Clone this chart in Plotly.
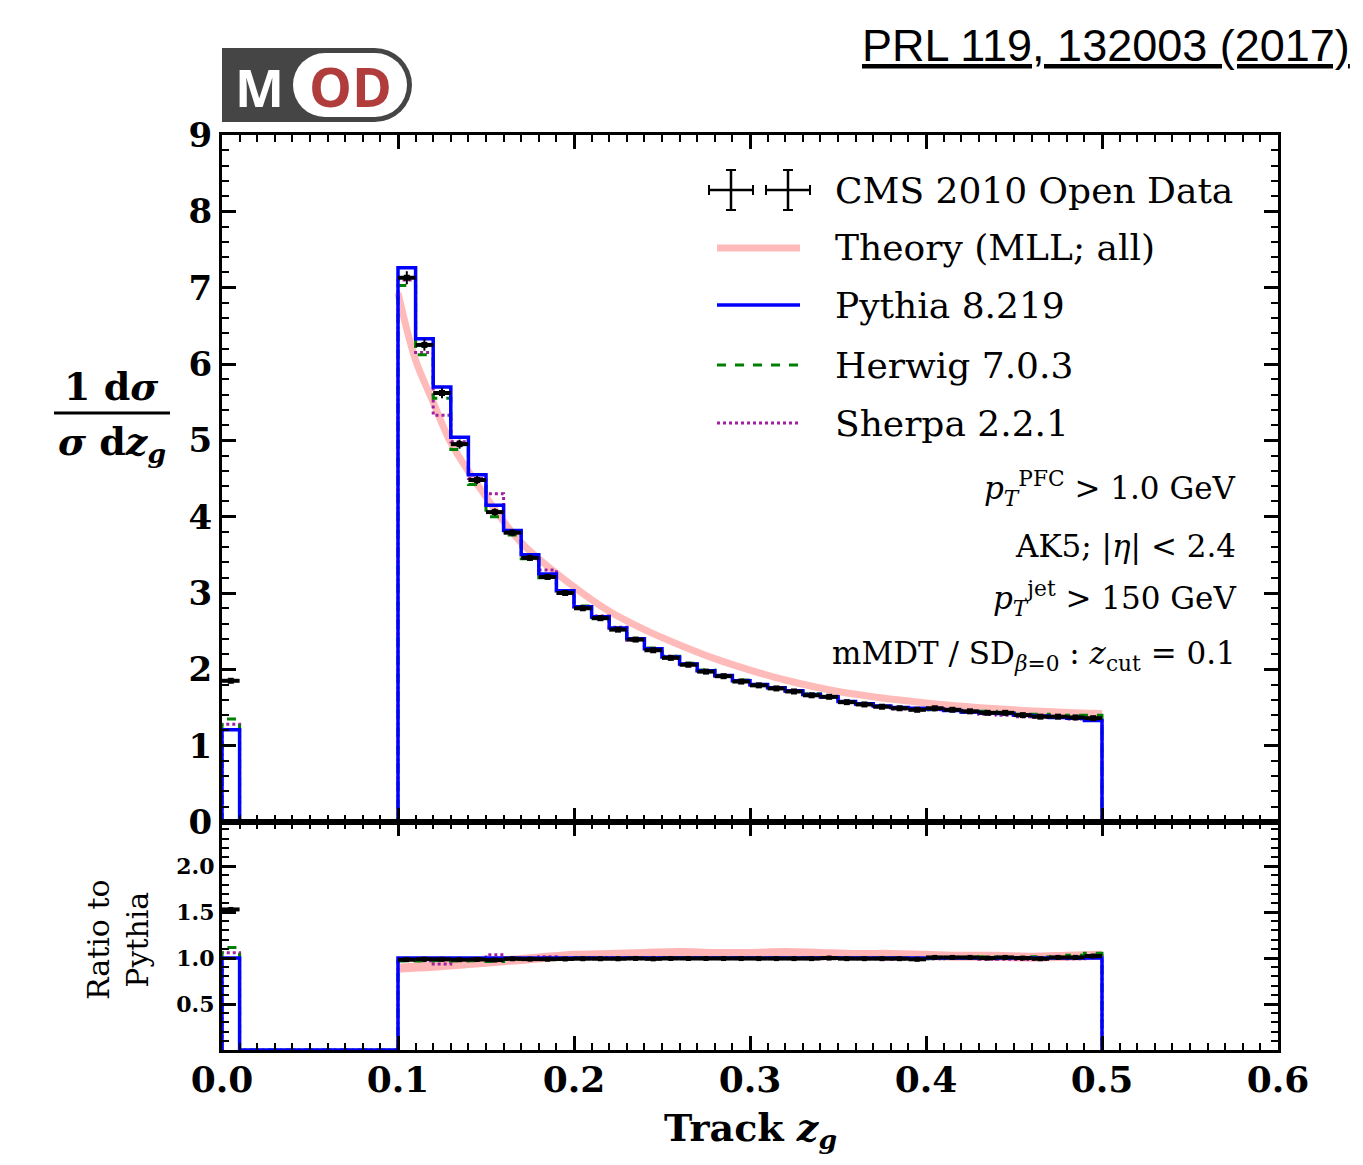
import plotly.graph_objects as go
from plotly.subplots import make_subplots
import numpy as np

# --- Daten (Track z_g, normiert) ---
# Bin-Kanten 0.00 ... 0.50 in Schritten von 0.01
bin_edges = [round(0.01 * i, 2) for i in range(51)]
gap = [0.0] * 9  # 0.01 - 0.10: keine Einträge (z_cut = 0.1)

data_vals = [1.85] + gap + [
    7.13, 6.25, 5.62, 4.95, 4.48, 4.06, 3.79, 3.46, 3.21, 3.00,
    2.80, 2.67, 2.52, 2.39, 2.25, 2.15, 2.06, 1.97, 1.91, 1.84,
    1.79, 1.75, 1.71, 1.66, 1.64, 1.57, 1.54, 1.51, 1.49, 1.47,
    1.49, 1.47, 1.45, 1.43, 1.43, 1.40, 1.38, 1.38, 1.37, 1.36]
pythia_vals = [1.21] + gap + [
    7.26, 6.33, 5.70, 5.04, 4.55, 4.15, 3.82, 3.50, 3.25, 3.03,
    2.82, 2.69, 2.54, 2.40, 2.27, 2.16, 2.07, 1.98, 1.92, 1.85,
    1.80, 1.76, 1.72, 1.67, 1.64, 1.58, 1.55, 1.52, 1.50, 1.49,
    1.48, 1.46, 1.44, 1.43, 1.42, 1.40, 1.39, 1.37, 1.36, 1.33]
herwig_vals = [1.35] + gap + [
    7.03, 6.12, 5.55, 4.88, 4.42, 4.00, 3.76, 3.45, 3.20, 3.02,
    2.83, 2.68, 2.53, 2.40, 2.28, 2.17, 2.08, 1.99, 1.92, 1.86,
    1.80, 1.76, 1.72, 1.68, 1.64, 1.58, 1.55, 1.52, 1.50, 1.48,
    1.47, 1.47, 1.44, 1.45, 1.43, 1.41, 1.41, 1.38, 1.40, 1.40]
sherpa_vals = [1.28] + gap + [
    7.10, 6.15, 5.33, 4.98, 4.50, 4.30, 3.80, 3.48, 3.30, 3.00,
    2.82, 2.70, 2.55, 2.38, 2.27, 2.17, 2.07, 1.98, 1.91, 1.85,
    1.79, 1.76, 1.71, 1.67, 1.63, 1.58, 1.54, 1.51, 1.48, 1.47,
    1.47, 1.46, 1.44, 1.41, 1.40, 1.38, 1.37, 1.37, 1.35, 1.36]

# Theorie (MLL) als glatte Kurve
theory_z = [0.10, 0.11, 0.12, 0.13, 0.15, 0.17, 0.20, 0.22, 0.24, 0.26,
            0.28, 0.30, 0.32, 0.35, 0.40, 0.45, 0.50]
theory_vals = [6.93, 6.05, 5.50, 4.97, 4.26, 3.66, 3.08, 2.76, 2.52, 2.32,
               2.14, 1.99, 1.86, 1.71, 1.56, 1.47, 1.42]
theory_ratio_z = [0.10, 0.12, 0.14, 0.16, 0.18, 0.20, 0.22, 0.24, 0.26, 0.28, 0.30,
                  0.32, 0.34, 0.36, 0.38, 0.40, 0.42, 0.44, 0.46, 0.48, 0.50]
theory_ratio = [0.89, 0.91, 0.94, 0.97, 1.00, 1.03, 1.04, 1.05, 1.06, 1.05, 1.05,
                1.06, 1.05, 1.04, 1.04, 1.03, 1.02, 1.02, 1.01, 1.02, 1.03]

# Seite hat 8px Rand -> Figur etwas kleiner, Pixelkoordinaten umrechnen
OFF = 8
W, H = 1363 - 2 * OFF, 1165 - 2 * OFF
def px(x): return (x - OFF) / W
def py(y): return 1 - (y - OFF) / H

SERIF = "DejaVu Serif"
BLUE, GREEN, PURPLE = "#0000ff", "#008000", "#a020a0"
PINK = "rgba(255,130,130,0.55)"

edges = np.array(bin_edges)
centers = (edges[:-1] + edges[1:]) / 2
step_x = [bin_edges[0]] + bin_edges


def step_y(vals):
    return [0.0] + list(vals) + [0.0]


pyth = np.array(pythia_vals)
safe = np.where(pyth > 0, pyth, 1.0)
mask = pyth > 0

fig = make_subplots(rows=2, cols=1, shared_xaxes=True, vertical_spacing=0)

# --- Hauptpanel ---
fig.add_trace(go.Scatter(x=theory_z, y=theory_vals, mode="lines",
                         line=dict(color=PINK, width=7, shape="spline")), row=1, col=1)
fig.add_trace(go.Scatter(x=step_x, y=step_y(sherpa_vals), mode="lines",
                         line=dict(color=PURPLE, width=3, dash="dot", shape="hv")), row=1, col=1)
fig.add_trace(go.Scatter(x=step_x, y=step_y(herwig_vals), mode="lines",
                         line=dict(color=GREEN, width=3, dash="dash", shape="hv")), row=1, col=1)
fig.add_trace(go.Scatter(x=step_x, y=step_y(pythia_vals), mode="lines",
                         line=dict(color=BLUE, width=3.5, shape="hv")), row=1, col=1)
dv = np.array(data_vals)
fig.add_trace(go.Scatter(x=centers[mask], y=dv[mask], mode="markers",
                         marker=dict(color="black", size=6, symbol="square"),
                         error_x=dict(type="constant", value=0.005, color="black", thickness=4, width=0),
                         error_y=dict(type="percent", value=1.2, color="black", thickness=2, width=0)),
              row=1, col=1)

# --- Verhältnis zu Pythia ---
r_pyth = np.where(mask, 1.0, 0.0)
fig.add_trace(go.Scatter(x=theory_ratio_z, y=theory_ratio, mode="lines",
                         line=dict(color="rgba(255,90,90,0.45)", width=9, shape="spline")), row=2, col=1)
fig.add_trace(go.Scatter(x=step_x, y=step_y(np.where(mask, np.array(sherpa_vals) / safe, 0.0)), mode="lines",
                         line=dict(color=PURPLE, width=3, dash="dot", shape="hv")), row=2, col=1)
fig.add_trace(go.Scatter(x=step_x, y=step_y(np.where(mask, np.array(herwig_vals) / safe, 0.0)), mode="lines",
                         line=dict(color=GREEN, width=3, dash="dash", shape="hv")), row=2, col=1)
fig.add_trace(go.Scatter(x=step_x, y=step_y(r_pyth), mode="lines",
                         line=dict(color=BLUE, width=3.5, shape="hv")), row=2, col=1)
fig.add_trace(go.Scatter(x=centers[mask], y=(dv / safe)[mask], mode="markers",
                         marker=dict(color="black", size=5, symbol="square"),
                         error_x=dict(type="constant", value=0.005, color="black", thickness=4, width=0),
                         error_y=dict(type="constant", value=0.015, color="black", thickness=2, width=0)),
              row=2, col=1)

axis_common = dict(showline=True, linewidth=3, linecolor="black", mirror="allticks", automargin=False,
                   ticks="inside", tickwidth=2.5, tickcolor="black", showgrid=False, zeroline=False)

xdom = [px(222), px(1278)]
fig.update_xaxes(range=[0, 0.6], dtick=0.1, ticklen=14, domain=xdom,
                 minor=dict(ticks="inside", dtick=0.01, ticklen=7, tickwidth=2, tickcolor="black"),
                 **axis_common)
fig.update_xaxes(showticklabels=False, row=1, col=1)
fig.update_xaxes(tickformat=".1f", tickfont=dict(family=SERIF, size=36, color="black", weight="bold"),
                 ticklabelstandoff=-4, row=2, col=1)
fig.update_yaxes(range=[0, 9], dtick=1, ticklen=14, domain=[py(822), py(135)],
                 minor=dict(ticks="inside", dtick=0.2, ticklen=7, tickwidth=2, tickcolor="black"),
                 tickfont=dict(family=SERIF, size=34, color="black", weight="bold"),
                 row=1, col=1, **axis_common)
fig.update_yaxes(range=[0, 2.48], tickvals=[0.5, 1.0, 1.5, 2.0], ticktext=["0.5", "1.0", "1.5", "2.0"],
                 ticklen=14, domain=[py(1050), py(822)],
                 minor=dict(ticks="inside", dtick=0.1, ticklen=7, tickwidth=2, tickcolor="black"),
                 tickfont=dict(family=SERIF, size=22, color="black", weight="bold"),
                 row=2, col=1, **axis_common)

shapes = []
ann = []

# --- Legende (von Hand) ---
leg_rows = [190, 248, 305, 365, 423]
leg_labels = ["CMS 2010 Open Data", "Theory (MLL; all)", "Pythia 8.219", "Herwig 7.0.3", "Sherpa 2.2.1"]
leg_styles = [None, dict(color=PINK, width=7), dict(color=BLUE, width=3.5),
              dict(color=GREEN, width=3, dash="dash"), dict(color=PURPLE, width=3, dash="dot")]
for yy, lab, st in zip(leg_rows, leg_labels, leg_styles):
    if st is None:
        for cx in (731, 788):
            shapes.append(dict(type="line", xref="paper", yref="paper", x0=px(cx - 22), x1=px(cx + 22),
                               y0=py(yy), y1=py(yy), line=dict(color="black", width=2.5)))
            shapes.append(dict(type="line", xref="paper", yref="paper", x0=px(cx), x1=px(cx),
                               y0=py(yy - 20), y1=py(yy + 20), line=dict(color="black", width=2.5)))
            for ex in (cx - 22, cx + 22):
                shapes.append(dict(type="line", xref="paper", yref="paper", x0=px(ex), x1=px(ex),
                                   y0=py(yy - 5), y1=py(yy + 5), line=dict(color="black", width=2)))
            for ey in (yy - 20, yy + 20):
                shapes.append(dict(type="line", xref="paper", yref="paper", x0=px(cx - 5), x1=px(cx + 5),
                                   y0=py(ey), y1=py(ey), line=dict(color="black", width=2)))
    else:
        shapes.append(dict(type="line", xref="paper", yref="paper", x0=px(717), x1=px(800),
                           y0=py(yy), y1=py(yy), line=st))
    ann.append(dict(x=px(833), y=py(yy), xref="paper", yref="paper", text=lab, showarrow=False,
                    xanchor="left", yanchor="middle", font=dict(family=SERIF, size=36, color="black")))

# --- Schnitt-Beschriftungen ---
cuts = [(488, "<i>p</i><sub><i>T</i></sub><sup>PFC</sup> &gt; 1.0 GeV"),
        (547, "AK5; |<i>η</i>| &lt; 2.4"),
        (598, "<i>p</i><sub><i>T</i></sub><sup>jet</sup> &gt; 150 GeV"),
        (655, "mMDT / SD<sub><i>β</i>=0</sub> : <i>z</i><sub>cut</sub> = 0.1")]
for yy, txt in cuts:
    ann.append(dict(x=px(1238), y=py(yy), xref="paper", yref="paper", text=txt, showarrow=False,
                    xanchor="right", yanchor="middle", font=dict(family=SERIF, size=31, color="black")))

# --- Achsentitel ---
ann.append(dict(x=px(112), y=py(386), xref="paper", yref="paper", text="<b>1 d<i>σ</i></b>",
                showarrow=False, xanchor="center", yanchor="middle",
                font=dict(family=SERIF, size=38, color="black")))
ann.append(dict(x=px(112), y=py(444), xref="paper", yref="paper", text="<b><i>σ</i> d<i>z<sub>g</sub></i></b>",
                showarrow=False, xanchor="center", yanchor="middle",
                font=dict(family=SERIF, size=38, color="black")))
shapes.append(dict(type="line", xref="paper", yref="paper", x0=px(54), x1=px(170),
                   y0=py(413), y1=py(413), line=dict(color="black", width=3)))
ann.append(dict(x=px(118), y=py(940), xref="paper", yref="paper", text="Ratio to<br>Pythia",
                showarrow=False, textangle=-90, xanchor="center", yanchor="middle",
                font=dict(family=SERIF, size=30, color="black")))
ann.append(dict(x=px(750), y=py(1130), xref="paper", yref="paper", text="<b>Track <i>z<sub>g</sub></i></b>",
                showarrow=False, xanchor="center", yanchor="middle",
                font=dict(family=SERIF, size=38, color="black")))

# --- Titel oben rechts ---
ann.append(dict(x=px(1352), y=py(46), xref="paper", yref="paper", text="<u>PRL 119, 132003 (2017)</u>",
                showarrow=False, xanchor="right", yanchor="middle",
                font=dict(family="Liberation Sans", size=45, color="black")))

# --- MOD Logo ---
DARK, RED = "#454545", "#b03c3c"
shapes += [
    dict(type="rect", xref="paper", yref="paper", x0=px(222), x1=px(375), y0=py(122), y1=py(48),
         fillcolor=DARK, line=dict(width=0), layer="above"),
    dict(type="circle", xref="paper", yref="paper", x0=px(337), x1=px(412), y0=py(122), y1=py(48),
         fillcolor=DARK, line=dict(width=0), layer="above"),
    dict(type="circle", xref="paper", yref="paper", x0=px(293), x1=px(357), y0=py(117), y1=py(53),
         fillcolor="white", line=dict(width=0), layer="above"),
    dict(type="rect", xref="paper", yref="paper", x0=px(325), x1=px(375), y0=py(117), y1=py(53),
         fillcolor="white", line=dict(width=0), layer="above"),
    dict(type="circle", xref="paper", yref="paper", x0=px(343), x1=px(407), y0=py(117), y1=py(53),
         fillcolor="white", line=dict(width=0), layer="above"),
]
ann.append(dict(x=px(259), y=py(86), xref="paper", yref="paper", text="<b>M</b>", showarrow=False,
                xanchor="center", yanchor="middle", font=dict(family="Open Sans", size=52, color="white")))
ann.append(dict(x=px(350), y=py(86), xref="paper", yref="paper", text="<b>OD</b>", showarrow=False,
                xanchor="center", yanchor="middle", font=dict(family="Open Sans", size=54, color=RED)))

fig.update_layout(width=W, height=H, margin=dict(l=0, r=0, t=0, b=0),
                  paper_bgcolor="white", plot_bgcolor="white", showlegend=False,
                  shapes=shapes, annotations=ann)

fig.write_html("out.html")
